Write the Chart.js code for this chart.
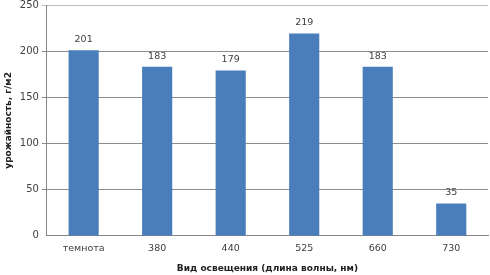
<!DOCTYPE html>
<html>
<head>
<meta charset="utf-8">
<script src="https://cdn.jsdelivr.net/npm/chart.js@4"></script>
<style>
  html, body { margin: 0; padding: 0; background: #fff; }
  #wrap { width: 490px; height: 275px; }
</style>
</head>
<body>
<div id="wrap"><canvas id="chart"></canvas></div>
<script>
const categories = ["темнота", "380", "440", "525", "660", "730"];
const yieldValues = [201, 183, 179, 219, 183, 35];
const yTicks = [0, 50, 100, 150, 200, 250];

const FONT = "'DejaVu Sans', Verdana, sans-serif";

// draw the value above each bar
const valueLabels = {
  id: "valueLabels",
  afterDatasetsDraw(chart) {
    const ctx = chart.ctx;
    const meta = chart.getDatasetMeta(0);
    ctx.save();
    ctx.font = "9.5px " + FONT;
    ctx.fillStyle = "#404040";
    ctx.textAlign = "center";
    ctx.textBaseline = "bottom";
    meta.data.forEach((bar, i) => {
      ctx.fillText(String(yieldValues[i]), bar.x, bar.y - 6);
    });
    ctx.restore();
  },
};

new Chart(document.getElementById("chart"), {
  type: "bar",
  data: {
    labels: categories,
    datasets: [{
      data: yieldValues,
      backgroundColor: "#4a7ebb",
      categoryPercentage: 1,
      barPercentage: 0.41,
    }],
  },
  options: {
    responsive: true,
    maintainAspectRatio: false,
    animation: false,
    layout: { padding: { top: 0, right: 2, left: 3, bottom: 0 } },
    plugins: {
      legend: { display: false },
      tooltip: { enabled: false },
    },
    scales: {
      x: {
        grid: { display: false, drawTicks: false },
        border: { color: "#868686" },
        ticks: { color: "#404040", font: { family: FONT, size: 9.5 }, padding: 7 },
        title: {
          display: true,
          text: "Вид освещения (длина волны, нм)",
          color: "#202020",
          font: { family: FONT, size: 9, weight: "bold" },
          padding: { top: 2, bottom: 1 },
        },
      },
      y: {
        min: 0,
        max: 250,
        afterBuildTicks: (axis) => { axis.ticks = yTicks.map((v) => ({ value: v })); },
        afterFit: (axis) => { axis.paddingTop = 5; },
        grid: {
          color: (c) => (c.tick && c.tick.value === 250 ? "#bdbdbd" : "#8c8c8c"),
          lineWidth: (c) => (c.tick && c.tick.value === 0 ? 0 : 1),
          tickLength: 5,
        },
        border: { color: "#868686" },
        ticks: { color: "#404040", font: { family: FONT, size: 10 }, padding: 3 },
        title: {
          display: true,
          text: "урожайность, г/м2",
          color: "#202020",
          font: { family: FONT, size: 9, weight: "bold" },
          padding: { top: 0, bottom: 3 },
        },
      },
    },
  },
  plugins: [valueLabels],
});
</script>
</body>
</html>
